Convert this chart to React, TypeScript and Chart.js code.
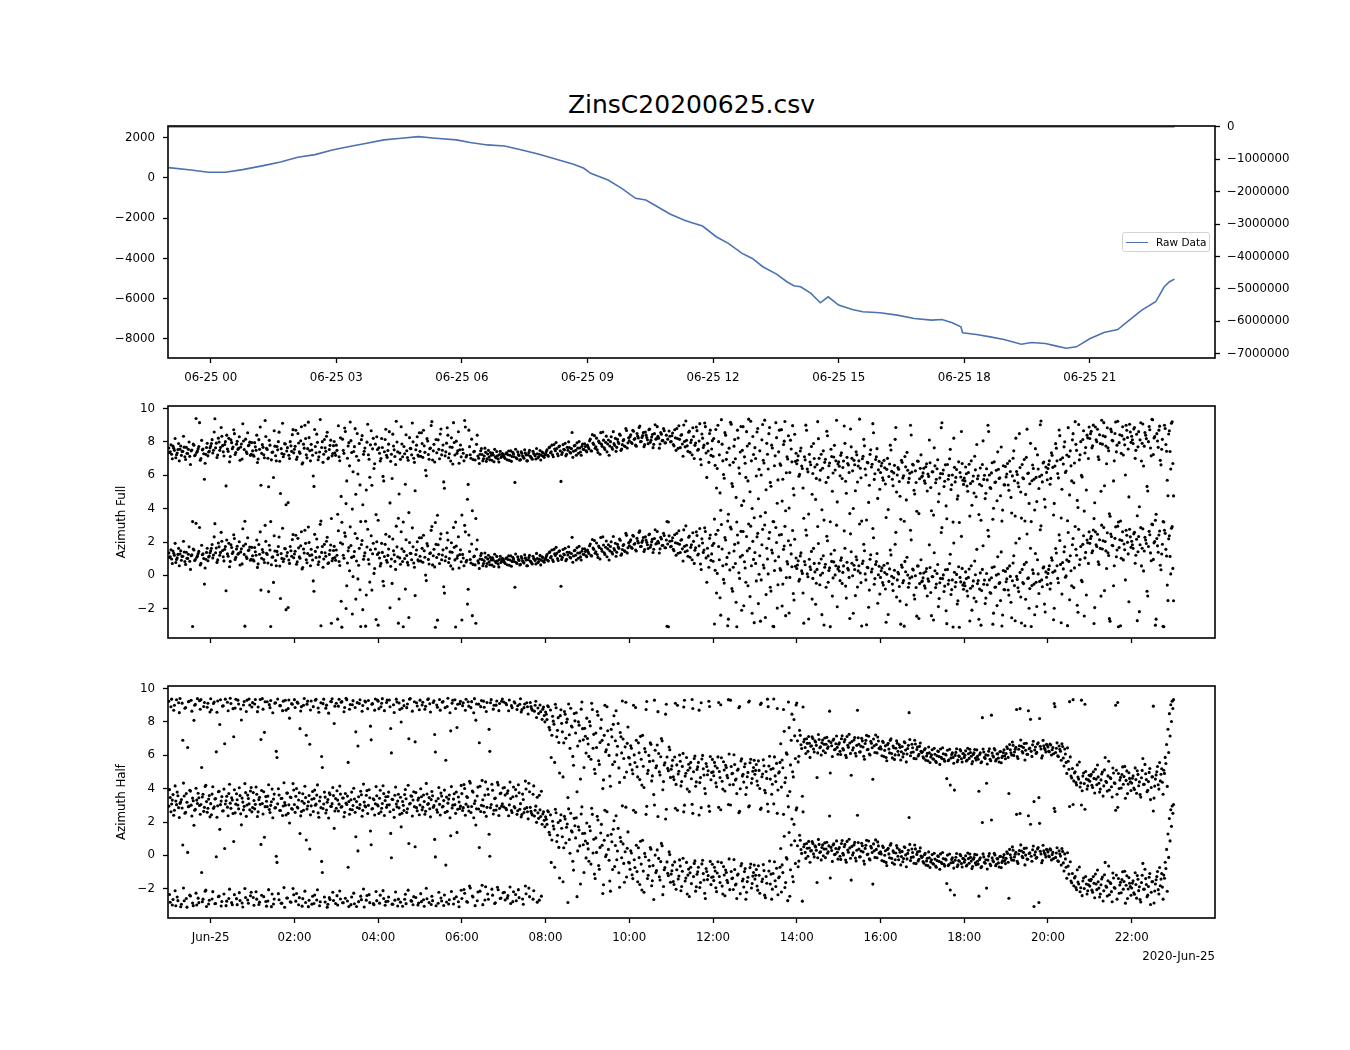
import { useEffect, useRef } from 'react'
import { Chart, registerables } from 'chart.js'

Chart.register(...registerables)

const FONT = 'DejaVu Sans'
Chart.defaults.font.family = FONT
Chart.defaults.color = '#000'

// hours relative to 2020-06-25 00:00
const X_MIN = -1.02
const X_MAX = 23.99

const TITLE = 'ZinsC20200625.csv'
const OFFSET_LABEL = '2020-Jun-25'

const TOP_X_TICKS = [0, 3, 6, 9, 12, 15, 18, 21]
const TOP_X_LABELS = ['06-25 00', '06-25 03', '06-25 06', '06-25 09', '06-25 12', '06-25 15', '06-25 18', '06-25 21']
const BOTTOM_X_TICKS = [0, 2, 4, 6, 8, 10, 12, 14, 16, 18, 20, 22]
const BOTTOM_X_LABELS = ['Jun-25', '02:00', '04:00', '06:00', '08:00', '10:00', '12:00', '14:00', '16:00', '18:00', '20:00', '22:00']
const RAW_Y_TICKS = [-8000, -6000, -4000, -2000, 0, 2000]
const CUM_Y_TICKS = [0, -1000000, -2000000, -3000000, -4000000, -5000000, -6000000, -7000000]
const AZ_TICKS = [-2, 0, 2, 4, 6, 8, 10]

// raw data trace (left axis)
const RAW_HOURS = [
  -1.006, -0.471, -0.06, 0.351, 0.763, 1.257, 1.669, 2.08, 2.493, 2.905, 3.316, 3.727, 4.138, 4.549, 4.963,
  5.374, 5.867, 6.197, 6.608, 7.021, 7.433, 7.844, 8.255, 8.666, 8.915, 9.077, 9.491, 9.818, 10.148, 10.394,
  10.643, 10.97, 11.301, 11.458, 11.75, 12.075, 12.364, 12.694, 12.94, 13.187, 13.517, 13.763, 13.928, 14.093,
  14.339, 14.561, 14.75, 14.999, 15.326, 15.575, 15.986, 16.398, 16.809, 17.22, 17.468, 17.715, 17.92, 17.961,
  18.291, 18.621, 18.95, 19.362, 19.608, 19.938, 20.184, 20.43, 20.679, 21.009, 21.337, 21.666, 21.996, 22.242,
  22.572, 22.778, 22.902, 23.024,
]
const RAW_VALUES = [
  512, 398, 283, 283, 413, 612, 796, 1029, 1161, 1393, 1559, 1725, 1891, 1974, 2056,
  1974, 1891, 1758, 1642, 1592, 1393, 1178, 929, 680, 481, 232, -100, -514, -1012, -1095,
  -1393, -1791, -2090, -2200, -2390, -2919, -3250, -3748, -3997, -4411, -4776, -5157, -5356, -5406,
  -5738, -6202, -5904, -6318, -6534, -6650, -6700, -6816, -6981, -7065, -7031, -7197, -7396, -7695,
  -7778, -7894, -8027, -8259, -8176, -8226, -8342, -8458, -8391, -7977, -7678, -7529, -6981, -6567,
  -6152, -5406, -5157, -5025,
]
// second trace on the right axis, sits on the top spine
const CUM_HOURS = [-1.006, 11.0, 23.024]
const CUM_VALUES = [0, 0, 0]

// azimuth readings, every 2 minutes from 24 Jun 23:00 (set A) and the readings in between (set B)
const SAMPLE_START = -1.0
const SAMPLE_STEP = 2 / 60

const AZ_FULL = [
  // 23h
  1.35, 1.12, 0.98, 1.46, 1.21, 0.77, 1.05, 1.62, 1.28, 0.91, 1.15, 1.40, 0.66, 1.03, 1.27, 0.85, 1.18, -3.06, 1.52, 0.95, 1.09, 1.31, 2.87, 0.72, 1.24, 1.01, 0.44, 1.38, 0.88, 1.16,
  // 00h
  1.47, 1.85, 1.22, 3.10, 1.64, 0.93, 1.71, 1.38, 2.05, 1.12, 1.56, -0.92, 1.29, 1.93, 0.84, 1.67, 1.41, 2.21, 1.08, 1.75, 1.33, 0.62, 1.59, 2.80, 1.26, 1.88, 1.02, 1.49, 1.70, 0.97,
  // 01h
  1.18, 0.86, 1.42, 2.12, 0.69, 1.27, -0.88, 1.55, 0.95, 3.00, 1.33, 0.74, 1.81, -3.06, 1.09, -0.42, 1.46, 0.58, 1.24, 2.30, -1.38, 1.02, 0.83, 1.61, -2.05, 1.37, 0.92, 1.73, 1.15, 2.45,
  // 02h
  1.28, 2.41, 0.81, 1.65, 1.03, 2.62, 0.47, 1.34, 1.92, 0.76, 2.90, 1.19, 1.57, 0.92, -0.95, 1.44, 2.18, 0.65, 1.11, -3.02, 1.73, 0.98, 1.36, 2.05, 0.71, 1.26, 1.82, 0.88, 1.49, 1.07,
  // 03h
  1.52, -2.62, 0.83, 1.96, -3.10, 1.21, 2.55, -1.98, 0.74, 1.67, 2.91, 1.08, -0.07, 1.43, -1.42, 2.22, 0.61, -0.86, 1.85, -2.05, 1.16, -3.04, 1.70, 0.95, -0.40, 2.38, 1.30, 0.12, 1.58, 2.02,
  // 04h
  -2.98, 1.04, 0.72, 1.38, -0.62, 1.86, 0.91, 1.20, 2.33, 0.55, -0.48, 1.47, 0.84, 2.95, 1.12, -1.41, 0.67, 1.59, -3.08, 1.01, 2.14, 0.78, -2.52, 1.33, 0.94, 1.72, 0.49, 1.25, 2.02, 0.86,
  // 05h
  1.15, 2.26, 0.79, 1.48, 0.02, 1.91, 0.96, 1.31, 2.70, 0.63, 1.57, -3.11, 1.07, 1.84, 0.71, 2.49, 1.22, -0.68, 0.88, 1.64, 2.12, 1.01, 0.57, 1.39, 2.87, 0.93, 1.76, 1.18, 0.44, 1.53,
  // 06h
  -2.67, 1.04, 3.00, 0.81, -1.72, 2.42, 0.95, 1.88, 0.66, 1.16, -2.87, 2.12, 0.74, 0.98, 1.32, 0.58, 0.87, 1.09, 0.71, 1.21, 0.64, 0.92, 1.05, 0.53, 0.83, 1.14, 0.69, 0.96, 0.78, 1.02,
  // 07h
  0.88, 0.72, 1.06, 0.95, 0.61, 1.18, 0.84, 0.99, -0.71, 0.77, 1.12, 0.90, 0.66, 1.03, 0.81, 1.24, 0.93, 0.58, 1.08, 0.86, 0.74, 1.15, 0.97, 0.69, 1.01, 0.83, 1.20, 0.91, 1.07, 0.79,
  // 08h
  1.02, 1.25, 0.86, 1.41, 1.13, 0.94, 1.56, 1.19, 1.32, 0.89, 1.47, -0.65, 1.08, 1.28, 1.63, 0.97, 1.22, 1.38, 1.05, 2.28, 1.16, 1.51, 0.92, 1.34, 1.74, 1.11, 1.45, 1.27, 1.60, 1.18,
  // 09h
  1.52, 1.31, 1.88, 1.17, 1.64, 2.09, 1.42, 1.25, 1.76, 0.98, 1.58, 2.31, 1.36, 1.69, 1.12, 1.83, 1.47, 2.02, 1.28, 1.61, 1.93, 1.39, 1.71, 2.18, 1.21, 1.55, 1.85, 1.44, 2.40, 1.66,
  // 10h
  1.78, 2.14, 1.62, 2.35, 1.91, 1.46, 2.06, 2.58, 1.73, 1.98, 2.27, 1.55, 2.12, 1.84, 2.44, 1.69, 2.01, 1.37, 2.21, 1.88, 2.63, 1.94, 1.59, 2.18, 1.81, 2.39, 1.66, -3.05, -3.08, 2.05,
  // 11h
  1.74, 2.25, 1.48, 1.96, 2.52, 1.33, 1.87, 2.11, 1.59, 2.73, 1.42, 1.81, 1.15, 2.36, 1.68, 0.94, 2.04, 1.51, 2.61, 1.22, 1.77, 0.68, 2.19, 1.38, 2.85, 1.05, 1.63, 0.49, 2.42, 1.29,
  // 12h
  0.85, -2.91, 2.46, 0.12, 1.73, -1.34, 3.05, 0.58, -0.46, 2.12, 1.08, -2.62, 0.33, 2.78, -0.95, 1.46, 0.71, -3.08, 1.95, -0.18, 2.64, 1.21, -1.82, 0.44, 2.33, -0.62, 1.62, 2.95, -2.27, 0.96,
  // 13h
  1.37, -0.33, 2.52, 0.07, -2.74, 1.84, 0.62, 3.02, -1.15, 0.98, 2.21, -0.71, 1.52, -3.05, 0.29, 2.87, -1.96, 1.12, 0.41, 2.45, -0.52, 1.76, -2.41, 0.83, 2.08, -0.12, 1.29, 2.69, -1.47, 0.55,
  // 14h
  0.41, 0.88, -0.23, 1.35, 0.12, -2.86, 0.64, 2.41, -0.08, 0.97, 0.35, -1.42, 1.62, 0.21, -0.47, 2.93, 0.73, 0.02, -2.35, 1.18, 0.49, -0.71, 2.08, 0.29, -3.07, 0.84, -0.15, 1.51, 0.58, -1.88,
  // 15h
  0.52, -0.31, 1.06, 0.18, 2.67, -0.64, 0.79, 0.33, -2.58, 1.42, -0.02, 0.61, -1.21, 0.94, 0.27, 3.08, -0.43, 0.71, 1.87, 0.09, -2.96, 0.46, -0.88, 1.24, 0.38, 2.26, -0.19, 0.83, -1.67, 0.55,
  // 16h
  -0.12, 0.45, -0.58, 0.17, -2.81, 0.73, -0.36, 1.52, -0.05, -0.91, 0.31, 2.58, -0.27, 0.08, -1.54, 0.62, -0.44, -3.04, 0.22, 1.09, -0.71, -0.16, 2.13, 0.38, -1.18, -0.02, -2.44, 0.56, -0.49, 0.94,
  // 17h
  -0.33, 0.14, -0.76, 0.41, -0.21, 1.83, -1.02, -0.07, -2.67, 0.28, -0.52, 0.65, -1.39, -0.18, 2.86, 0.03, -0.64, -2.12, 0.36, -0.29, 1.27, -0.85, -3.09, 0.19, -0.41, -1.71, 0.52, -0.12, 2.34, -0.58,
  // 18h
  -0.45, 0.21, -0.93, -0.12, -2.73, 0.58, -0.64, -1.35, 0.04, 1.56, -0.31, -0.82, -2.98, 0.36, -0.53, -1.68, 0.11, 2.71, -0.27, -1.07, 0.47, -2.26, -0.71, 0.02, 1.12, -0.48, -1.51, -3.03, 0.29, -0.86,
  // 19h
  -0.38, 0.42, -1.18, -0.06, -2.54, 0.74, -0.61, 1.94, -0.24, -0.97, 0.18, -2.85, -0.43, 0.66, -1.43, 2.48, -0.15, -0.79, -3.06, 0.33, -0.52, 1.31, -1.86, 0.09, -0.36, 2.97, -0.68, 0.51, -2.19, -0.11,
  // 20h
  0.12, 0.58, -0.47, 0.91, -2.66, 0.27, 1.34, -0.18, 2.43, 0.66, -1.12, 0.39, 1.72, -0.03, -3.01, 0.84, 1.18, -0.62, 2.21, 0.45, 1.57, -1.79, 2.76, 0.95, -0.29, 1.86, -2.43, 1.38, 2.12, 0.72,
  // 21h
  1.92, 2.35, 1.48, -2.88, 2.61, 1.73, 0.82, 2.14, -1.24, 1.58, 2.87, 2.03, 0.41, 1.36, -2.59, 2.48, 1.81, -0.62, 2.22, 1.12, 2.95, 1.67, -3.02, 2.09, 0.93, 1.54, 2.71, 1.98, -1.58, 2.31,
  // 22h
  2.05, 1.62, 2.58, 1.21, -2.71, 2.33, 1.84, 0.57, 2.79, 1.46, 2.12, -0.95, 1.73, 2.44, 0.88, 3.04, 1.95, -2.98, 2.21, 1.39, 2.66, 0.34, 1.87, -3.08, 2.52, 1.16, -1.51, 2.38, 0.09, 2.92,
  // 23h
  -1.52,
]

const AZ_FULL_B = [
  // 23h
  1.08, 1.54, 0.71, 1.33, 1.92, 0.95, 1.26, 0.58, 1.47, 1.14, 2.05, 0.83, 1.39, 1.02, 1.71, 0.36, 1.23, 1.58, 0.89, 3.12, 1.17, 1.44, 0.62, 1.81, 1.29, -0.52, 0.97, 1.63, 1.11, 1.36,
  // 00h
  1.62, 1.05, 2.31, 1.36, 0.78, 1.94, 1.21, 2.58, 1.49, 0.87, 1.73, 2.12, 1.15, 0.52, 1.84, 1.31, 2.44, 0.96, 1.58, 1.27, 2.02, 1.41, 0.69, 1.77, -3.04, 1.12, 2.26, 1.53, 0.91, 1.68,
  // 01h
  0.93, 1.67, 1.21, 0.48, 1.85, 2.61, 1.03, 1.39, 0.77, 2.04, 1.26, -0.97, 1.52, 0.64, 1.11, 2.38, 0.89, 1.44, 1.73, 0.56, 1.31, 2.83, 0.98, 1.59, 1.17, -1.92, 0.72, 1.48, 2.15, 1.06,
  // 02h
  1.45, 0.67, 2.22, 1.12, 1.78, 0.39, 1.58, 2.71, 0.94, 1.31, 1.97, 0.58, 1.23, -0.33, 2.46, 1.07, 1.69, 0.82, 3.06, 1.38, 0.49, 1.86, 1.15, 2.29, 0.76, 1.51, -2.87, 1.02, 1.74, 0.91,
  // 03h
  1.21, 2.68, 0.59, -1.55, 1.88, 1.03, 2.34, -0.62, 1.47, 0.28, 1.79, -2.31, 1.14, 2.51, 0.86, -0.21, 1.62, -3.06, 2.09, 0.97, 1.35, -1.17, 2.77, 0.68, 1.54, -0.88, 1.93, 0.41, -2.64, 1.26,
  // 04h
  1.36, 0.57, 1.92, -0.35, 1.13, 2.47, 0.79, 1.58, -1.94, 0.98, 2.18, 1.24, 0.36, 1.71, -2.86, 1.05, 2.62, 0.83, 1.44, -0.82, 1.19, 0.62, 1.97, 1.31, 2.85, 0.74, -1.21, 1.52, 0.93, 2.26,
  // 05h
  0.86, 1.62, 2.41, 1.09, -0.31, 1.77, 0.68, 1.35, 2.93, 1.18, 0.51, 1.86, -2.68, 1.27, 2.19, 0.94, 1.53, -1.06, 1.12, 2.56, 0.77, 1.41, 1.96, 0.39, 1.68, -3.09, 1.03, 2.32, 1.25, 0.82,
  // 06h
  1.26, 0.58, 2.61, 0.91, -0.83, 1.43, 0.74, -2.41, 1.12, 0.63, 1.57, 0.87, 0.42, 1.19, 0.96, 0.71, 1.34, 0.55, 0.99, 0.81, 1.08, 0.62, 0.93, 1.27, 0.76, 0.88, 0.51, 1.15, 0.84, 0.97,
  // 07h
  0.79, 1.01, 0.64, 1.17, 0.92, 0.55, 1.09, 0.83, 1.28, 0.71, 0.96, 0.62, 1.13, 0.87, 0.74, 1.05, 0.58, 0.94, 1.21, 0.81, 0.68, 1.02, 0.89, 1.32, 0.76, 0.98, 0.63, 1.11, 0.85, 0.95,
  // 08h
  1.14, 0.91, 1.37, 1.06, 1.52, 0.83, 1.29, 1.68, 1.01, 1.43, 1.18, 0.96, 1.55, 1.24, 0.88, 1.39, 1.72, 1.09, 1.31, 0.79, 1.48, 1.21, 1.66, 1.03, 1.35, 0.92, 1.59, 1.26, 1.44, 1.12,
  // 09h
  1.41, 1.78, 1.19, 2.15, 1.56, 1.33, 1.94, 1.08, 1.67, 2.27, 1.45, 1.82, 1.26, 2.06, 1.59, 0.92, 1.73, 1.38, 2.33, 1.51, 1.15, 1.87, 1.62, 2.11, 1.29, 1.79, 1.47, 2.52, 1.35, 1.96,
  // 10h
  2.03, 1.68, 2.41, 1.87, 1.52, 2.22, 1.95, 2.67, 1.74, 2.09, 1.43, 2.31, 1.98, 1.61, 2.48, 1.82, 2.16, 1.57, 2.74, 1.91, 2.05, 1.34, 2.28, 1.79, 2.52, 1.66, 2.12, 1.88, 2.37, 1.72,
  // 11h
  2.08, 1.56, 2.44, 1.21, 1.92, 2.68, 1.37, 2.15, 0.86, 1.74, 2.97, 1.48, 2.29, 1.09, 1.83, 2.56, 0.72, 1.65, 2.39, 1.28, 2.81, 0.35, 1.94, 1.52, 2.63, -0.41, 1.17, 2.22, 0.91, 1.79,
  // 12h
  1.92, 0.31, -1.05, 2.71, 0.94, -2.38, 1.58, -0.24, 2.27, 0.67, -3.02, 1.34, 2.89, -0.78, 0.49, 1.86, -1.61, 2.42, 0.16, 1.11, -2.09, 2.63, 0.82, -0.41, 1.47, 3.08, -1.27, 0.58, 2.04, -2.83,
  // 13h
  0.72, 2.31, -1.69, 1.18, -0.27, 2.76, 0.45, -2.52, 1.63, 0.09, 2.58, -0.94, 1.35, -3.07, 0.88, 1.97, -0.56, 2.42, 0.31, -1.83, 1.56, 2.94, -0.13, 0.69, -2.25, 1.82, 0.52, -1.08, 2.17, 1.04,
  // 14h
  0.62, -0.34, 1.17, 0.27, -1.05, 0.83, 2.72, 0.09, -2.61, 0.51, 1.44, -0.18, 0.72, -1.73, 0.36, 1.91, -0.56, 0.98, 0.14, -2.97, 0.67, 2.35, -0.41, 0.45, 1.28, -1.24, 0.81, 0.03, 3.01, 0.39,
  // 15h
  0.26, 0.91, -0.48, 0.57, 1.63, -1.36, 0.42, -0.12, 2.49, 0.73, -2.27, 0.35, 1.12, -0.69, 0.58, 0.14, -3.03, 0.86, 1.48, -0.27, 0.49, -1.91, 0.97, 0.21, 2.81, -0.53, 0.66, 1.31, 0.04, -1.12,
  // 16h
  0.28, -0.43, 0.61, -0.81, 0.07, -2.34, 0.39, 1.23, -0.52, -0.14, 1.87, -1.29, 0.18, -0.66, -2.92, 0.49, -0.31, 0.84, -1.76, 0.02, -0.47, 2.71, -0.09, 0.33, -1.41, -0.72, 0.57, -2.58, 0.13, -0.38,
  // 17h
  -0.14, -0.62, 0.23, -1.23, -0.35, 0.47, -2.41, -0.08, 1.36, -0.73, 0.11, -1.87, -0.44, 2.57, -0.19, -0.96, 0.34, -2.89, -0.52, 0.71, -1.14, -0.27, 1.94, -0.68, 0.06, -1.52, -3.11, -0.39, 0.42, -0.83,
  // 18h
  -0.62, -0.19, -1.24, 0.38, -0.77, -2.08, -0.33, 0.86, -1.57, -0.49, -2.63, 0.15, -0.91, 1.78, -0.28, -1.36, -0.56, 2.34, -1.02, -0.14, -2.92, 0.52, -0.69, -1.81, 0.08, -0.43, 1.41, -2.37, -0.85, 0.24,
  // 19h
  -0.21, -0.87, 0.57, -1.61, -0.32, 1.18, -2.72, -0.06, -0.74, 2.21, -1.29, 0.36, -0.49, -3.02, 0.79, -0.18, -1.97, 1.63, -0.61, 0.12, -2.36, -0.41, 0.94, -1.08, 2.74, -0.27, 0.45, -1.72, 0.21, -0.55,
  // 20h
  0.36, -0.82, 1.06, 0.19, -1.97, 1.61, 0.58, -0.44, 2.09, -2.84, 0.77, 1.42, -0.11, 0.93, 2.57, -1.46, 0.28, 1.84, -0.73, 2.93, 1.21, -2.21, 0.64, 1.73, -0.38, 2.38, 1.05, -1.17, 1.96, 2.61,
  // 21h
  2.21, 1.36, 2.72, -1.93, 1.84, 2.47, 0.66, 1.62, 3.01, 2.08, -0.91, 1.47, 2.56, 1.19, -2.74, 2.33, 1.78, 0.58, 2.91, 1.52, -3.08, 2.14, 1.03, 2.62, 1.88, -0.27, 2.41, 1.29, 2.77, 1.69,
  // 22h
  1.84, 2.49, 0.73, 2.17, 1.42, -2.17, 2.86, 1.63, 0.27, 2.28, 1.91, -1.23, 2.64, 1.35, 3.07, 0.96, 2.03, -2.62, 1.77, 2.42, 0.61, 1.28, -3.05, 2.71, 1.56, -0.58, 2.19, 1.14, 2.83, 0.42,
]

const AZ_HALF = [
  // 23h
  2.95, -2.81, 3.08, -2.64, 2.71, -3.02, -2.49, 2.86, 3.12, -2.93, 0.62, -2.72, 2.58, -3.10, 2.92, -2.38, 3.01, -2.85, 1.81, 2.77, -2.97, -2.56, 2.99, 3.05, -2.78, 2.64, -2.15, -3.06, 2.83, -2.69,
  // 00h
  3.10, -2.61, 2.82, -2.90, -0.08, 2.97, -2.44, 3.04, -2.76, 2.68, 0.41, -3.01, 2.89, -2.58, 3.13, -2.83, 2.51, -2.35, 3.07, -2.95, 2.79, -2.70, 1.83, -3.09, 2.94, -2.52, 3.02, -2.87, 2.73, -2.21,
  // 01h
  2.87, -2.99, 3.06, -2.62, 2.61, -2.80, 0.66, 3.11, -2.47, 2.92, -3.04, -2.73, 2.75, 3.00, -2.31, -2.91, 2.84, -0.05, 3.09, -2.66, 2.69, -2.86, 2.96, -3.11, 2.42, -2.55, 3.03, -2.78, 2.81, -1.98,
  // 02h
  3.05, -2.74, 2.90, -2.96, 1.31, 2.63, -2.59, 3.12, -2.82, 2.78, -3.07, 0.38, 2.97, -2.45, -2.88, 3.01, -2.67, 2.55, -3.02, 2.86, -1.02, 3.08, -2.79, 2.72, -2.93, -2.53, 2.94, 3.10, -2.70, 2.66,
  // 03h
  2.83, -2.97, 3.07, -2.61, 2.93, -2.84, 2.58, 3.13, -2.73, -3.06, 2.76, -2.49, 2.99, -2.90, 1.12, 2.87, -2.77, 3.04, -2.65, 2.70, -3.09, 2.91, -2.40, 3.00, -2.83, 0.64, 2.81, -2.95, 3.09, -2.71,
  // 04h
  2.96, -2.86, 2.62, 3.11, -2.58, -2.99, 2.88, -2.75, 3.03, 1.32, -2.92, 2.74, -2.68, 3.08, -3.03, 2.85, -2.80, 2.53, 3.00, -2.63, -2.89, 2.79, 0.71, 3.12, -2.74, -2.96, 2.92, -2.52, 2.67, -2.85,
  // 05h
  3.02, -2.77, 2.89, -3.05, 2.65, -2.60, 3.10, 2.80, -2.94, -2.71, 2.98, -0.09, 2.73, -2.87, 3.06, -2.55, 2.90, -3.00, 2.57, -2.79, 3.13, -2.66, 1.18, 2.84, -2.91, 3.04, -2.48, 2.77, -3.08, 2.95,
  // 06h
  -2.58, 2.86, -2.27, 3.07, -2.81, 2.66, -1.95, 2.93, -2.49, 3.11, 1.82, -2.72, 2.78, -2.14, 3.00, -2.95, 2.59, -1.88, 2.88, -2.63, -0.05, 3.05, -2.38, 2.71, -2.84, 2.97, -2.06, 2.82, -2.55, 3.09,
  // 07h
  2.91, -2.67, 2.74, -2.41, 3.03, -2.88, 2.57, -2.18, 2.85, -2.72, 2.68, -2.53, 3.10, 2.45, -2.93, 2.79, -2.30, 2.62, -1.96, 2.88, 2.51, -2.62, 2.36, 2.95, -2.80, 2.22, 2.73, -2.44, 2.48, 2.10,
  // 08h
  2.31, 1.86, 2.62, 1.24, -0.42, 2.05, 1.58, 2.77, 0.83, 1.97, -1.35, 2.44, 1.12, 0.46, 2.18, 1.69, -2.82, 0.95, 2.53, 1.41, -0.88, 1.78, 2.26, 0.27, 1.52, -1.71, 2.91, 0.64, 1.33, -0.15,
  // 09h
  0.72, -0.35, 1.48, 2.83, 0.14, -1.12, 1.05, 2.34, -0.61, 0.48, 1.86, -2.28, 0.91, -0.07, 2.62, 0.36, -1.53, 1.27, -0.84, 2.08, 0.59, -0.26, 1.62, -1.91, 0.83, 2.97, -0.48, 0.22, -1.29, 1.41,
  // 10h
  -0.45, 0.28, -1.16, 2.71, -0.72, 0.61, -1.58, -0.13, 0.85, -2.07, -0.94, 0.12, 2.46, -1.38, -0.29, 0.47, -1.82, -0.61, 3.02, -1.03, 0.33, -0.18, -1.47, 0.72, -2.35, -0.86, 2.18, -0.39, -1.21, 0.05,
  // 11h
  -1.12, -0.58, -1.74, 2.83, -0.86, -1.41, -0.27, -2.12, -0.95, 2.61, -1.53, -0.42, -1.18, -2.46, -0.71, 3.06, -1.27, -0.33, -1.88, -0.98, 2.42, -1.62, -0.51, -1.09, -2.27, -0.78, -1.45, 2.95, -0.36, -1.31,
  // 12h
  -1.28, -0.71, -1.94, -1.05, 2.88, -1.62, -0.43, -2.31, -1.17, -0.88, -1.49, 3.05, -2.05, -0.96, -1.36, -0.25, -1.77, -2.58, -1.11, 2.64, -0.62, -1.53, -1.89, -0.79, -2.21, -1.31, 2.97, -0.52, -1.68, -1.02,
  // 13h
  -1.42, -0.84, -2.08, -1.19, 2.76, -1.57, -0.55, -2.38, -1.26, 3.08, -0.93, -1.71, -2.62, -1.08, -0.38, -1.86, 2.52, -1.34, -0.71, -2.19, -1.03, 1.15, -1.63, -0.22, 2.91, -2.45, 0.62, -1.27, 1.86, -0.48,
  // 14h
  2.85, -0.68, 1.21, 0.35, -2.74, 0.52, 0.18, 0.71, -0.05, 0.44, 0.26, 0.83, 0.09, 0.58, 0.31, -0.14, 0.66, 0.22, 0.47, -0.02, 0.75, 0.38, 0.13, 0.57, -1.35, 0.29, 0.62, 0.05, 0.41, 0.19,
  // 15h
  0.38, -0.05, 0.71, 0.12, 0.52, -0.28, 0.84, 0.19, 0.45, -1.48, 0.03, 0.63, -0.16, 0.31, 0.77, -0.09, 0.26, 0.58, -0.34, 0.42, 0.91, 0.08, -0.21, 0.55, 0.17, 0.69, -0.12, 0.36, 0.81, 0.14,
  // 16h
  0.22, -0.31, 0.48, 0.01, -0.42, 0.35, 0.09, 0.61, -0.18, 0.27, -0.53, 0.14, 0.44, -0.26, 0.19, -0.07, -0.38, 0.52, 0.03, -0.21, 0.31, 0.66, -0.12, 0.17, -0.47, 0.39, 0.06, -0.33, 0.25, -0.04,
  // 17h
  -0.08, -0.46, 0.12, -0.33, -0.61, -0.14, -0.39, 0.05, -0.52, -0.22, -0.71, -0.03, -0.36, 0.09, -0.48, -0.19, -0.64, -0.27, 0.02, -0.55, -2.07, -0.24, -0.42, -2.37, -0.11, -0.67, -0.31, 0.06, -0.49, -0.18,
  // 18h
  -0.41, -0.02, -0.58, -0.19, 0.08, -0.34, -0.66, -0.13, -0.45, 0.04, -0.52, -0.24, -0.73, 1.97, -0.09, -0.47, -1.96, -0.28, 0.11, -0.61, -0.15, -0.38, 0.03, -0.53, -0.21, -0.69, -0.06, -0.42, -0.12, -0.31,
  // 19h
  -0.18, 0.12, -2.57, 0.04, -0.27, 0.31, -0.09, 0.19, -0.36, 0.08, 2.51, 0.26, -0.14, 0.42, 0.02, -0.22, 2.38, 0.15, -0.05, 0.34, -3.06, 0.21, -0.11, 0.47, 1.92, 0.09, -0.31, 0.28, 0.05, 0.37,
  // 20h
  0.21, -0.08, 0.33, 0.05, -0.19, 2.63, 0.14, -0.32, 0.27, -0.04, 0.41, -0.45, 0.09, -0.71, 0.16, -1.12, -0.38, -1.64, 3.05, -1.35, -1.92, -0.86, -1.71, -2.18, 3.02, -1.53, -1.98, -1.26, -2.31, -1.76,
  // 21h
  -1.84, -1.43, -2.21, -1.67, -1.12, -2.05, -1.58, -2.49, -1.76, -1.29, -2.12, -0.42, -1.91, -1.52, -2.36, -1.68, -2.78, -1.35, -1.97, -1.18, 2.88, -2.27, -1.61, -1.44, -2.02, -0.95, -1.79, -2.58, -1.33, -1.87,
  // 22h
  -1.95, -1.52, -2.33, -1.74, -1.21, -2.11, -2.64, -1.63, -0.48, -2.02, -1.39, -2.47, -1.86, -1.08, -2.21, -1.57, -2.85, -1.71, -1.27, -2.05, -0.72, -1.42, -1.90, -1.18, -0.41, 0.36, 1.28, 2.21, 2.74, 2.96,
  // 23h
  3.05,
]

const AZ_HALF_B = [
  // 23h
  -2.34, 2.62, -2.97, 2.41, -2.12, 3.04, -2.71, 2.27, -3.08, 2.84, -1.95, 2.53, -2.58, 0.18, 2.95, -2.43, 2.36, -3.01, 2.71, -2.26, 3.11, -2.83, 2.47, -1.02, -2.62, 2.88, -2.08, 2.59, -2.91, 2.31,
  // 00h
  2.44, -2.17, 2.91, -2.88, 2.29, -2.47, 1.56, -3.03, 2.66, -2.31, 3.08, -2.74, 2.38, -2.02, 2.82, -2.96, 0.83, 2.55, -2.59, 3.02, -2.23, 2.49, -2.85, 2.73, -1.98, 2.34, -2.67, 3.09, -2.42, 2.61,
  // 01h
  -2.52, 2.79, -2.18, 2.33, -2.94, 3.06, -2.39, 2.48, 1.09, -2.76, 2.92, -2.05, 2.57, -3.07, 2.26, -2.61, 2.86, -0.42, -2.29, 2.69, -2.87, 2.39, -1.93, 3.01, -2.55, 2.52, 1.94, -2.81, 2.77, -2.36,
  // 02h
  2.58, -2.28, 2.84, -2.53, 2.37, -3.04, 2.71, -2.14, 0.92, 2.96, -2.69, 2.43, -2.92, 2.63, -2.37, 3.07, -2.06, 2.29, -2.78, -0.36, 2.81, -2.49, 2.54, -3.10, 2.24, -2.64, 2.93, -2.21, 1.62, -2.88,
  // 03h
  -2.41, 2.66, -2.13, 2.89, -2.84, 2.32, -2.57, 3.05, -0.71, 2.47, -2.95, 2.74, -2.26, 2.58, -3.06, 0.27, 2.82, -2.44, 2.35, -2.01, 2.97, -2.68, 2.51, -2.35, 1.46, 2.78, -2.89, 2.42, -2.16, 3.03,
  // 04h
  2.51, -2.38, 2.83, -2.11, 2.39, -2.77, 3.02, -2.49, 2.62, -0.14, -2.93, 2.28, -2.19, 2.91, -2.62, 2.46, 1.71, -3.05, 2.69, -2.33, 2.57, -2.08, 3.08, -2.71, 2.36, -2.47, 0.52, 2.86, -2.97, 2.44,
  // 05h
  -2.29, 2.73, -2.66, 2.47, -1.97, 3.06, -2.82, 2.31, -2.45, 2.88, 0.96, -3.02, 2.59, -2.21, 2.42, -2.73, 2.94, -2.37, -0.58, 2.64, -2.91, 2.26, -2.16, 3.01, -2.59, 2.52, 1.38, -2.78, 2.81, -2.09,
  // 06h
  2.69, -2.04, 2.41, -2.76, 2.92, -1.84, 2.57, -2.43, 2.26, -3.01, 2.79, -2.19, 0.47, 2.63, -1.79, 2.96, -2.67, 2.34, -2.31, 1.27, 2.86, -2.02, 2.48, -2.88, 2.72, -1.91, 2.39, -2.58, 2.95, -2.24,
  // 07h
  -2.21, 2.83, -2.56, 2.38, -1.89, 2.69, -2.77, 2.92, -2.34, 2.46, -2.05, 2.77, 2.31, -2.61, 2.57, -1.83, 2.86, 2.19, -2.47, 2.64, 2.42, -2.12, 2.71, 1.98, 2.55, -2.68, 2.33, 1.87, 2.61, 1.72,
  // 08h
  2.17, 2.68, 1.39, 2.43, 0.92, 1.76, -0.71, 2.56, 1.21, 0.48, 2.09, 1.63, -1.58, 2.34, 0.74, 1.88, 2.79, 0.13, 1.47, -0.35, 2.22, 1.05, -2.47, 1.72, 0.57, 2.48, 1.31, -1.02, 0.86, 1.94,
  // 09h
  0.39, 1.73, -0.52, 2.46, 0.97, -1.38, 0.18, 2.12, -0.83, 1.34, 0.61, -1.76, 2.71, 0.04, 1.19, -0.29, -2.14, 0.82, 1.57, -0.67, 2.38, 0.26, -1.04, 1.08, -0.14, 0.69, -1.61, 2.89, 0.43, -0.41,
  // 10h
  -0.83, 0.14, -1.39, -0.26, 2.58, -0.97, 0.46, -1.74, -0.52, 0.91, -2.21, -0.08, 2.94, -1.19, -0.65, 0.37, -1.52, -2.64, 0.02, -0.91, 2.33, -1.28, -0.37, 0.58, -1.86, -0.73, 2.77, -1.07, 0.21, -1.61,
  // 11h
  -0.92, -1.57, -0.39, -2.03, 2.71, -1.24, -0.64, -1.86, -0.17, 3.01, -1.36, -2.31, -0.82, -1.04, -1.69, 2.52, -0.48, -2.14, -1.13, -0.71, -1.92, 2.86, -0.29, -1.47, -2.58, -0.96, -1.21, 2.64, -1.75, -0.53,
  // 12h
  -1.51, -0.93, -2.17, -0.38, -1.26, 2.74, -1.84, -0.67, -2.42, -1.02, -1.63, -0.21, 3.02, -1.39, -2.04, -0.84, -1.71, -1.18, 2.56, -2.29, -0.49, -1.42, -0.97, -2.63, -1.57, 2.91, -0.73, -1.95, -1.24, -0.58,
  // 13h
  -1.19, -1.83, -0.62, -2.27, 2.84, -1.41, -0.91, -2.53, -1.67, 2.63, -0.34, -1.12, -2.02, 3.09, -1.52, -0.77, -2.36, -1.28, 0.41, -0.57, 2.46, -1.92, -0.13, -2.71, 1.37, -0.86, 2.18, -1.58, 0.88, 2.73,
  // 14h
  0.58, -0.34, 0.91, 0.12, 2.61, 0.67, -0.18, 0.43, 0.84, -0.41, 0.29, 0.72, -0.09, 0.51, -1.62, 0.96, 0.17, -0.27, 0.63, 0.38, -0.13, 0.79, 0.22, 2.36, 0.48, -0.36, 0.69, 0.07, 0.87, -0.22,
  // 15h
  0.47, -0.24, 0.89, 0.03, 0.66, -0.41, 0.32, 0.97, -0.17, 0.54, 0.16, 0.78, -0.33, 2.41, 0.38, -0.08, 0.73, 0.21, -0.52, 0.61, 0.05, 0.86, -0.27, 0.44, -1.72, 0.28, 0.93, -0.14, 0.57, 0.11,
  // 16h
  0.09, 0.56, -0.36, 0.28, -0.61, 0.43, -0.14, 0.71, -0.44, 0.17, -0.26, 0.59, -0.05, 0.34, -0.57, 0.24, -0.19, 0.47, -0.68, 0.12, 2.27, -0.31, 0.38, -0.09, 0.62, -0.49, 0.21, -0.23, 0.45, -0.12,
  // 17h
  -0.37, 0.04, -0.58, -0.17, 0.21, -0.72, -0.26, -0.49, 0.13, -0.64, -0.31, -0.06, -0.83, -0.41, 0.17, -0.53, -0.22, -1.68, -0.61, 0.08, -0.44, -0.14, -0.76, -0.29, 0.11, -0.57, -0.35, -0.02, -0.69, -0.19,
  // 18h
  -0.28, -0.63, 0.14, -0.47, -0.12, -0.79, -0.23, 0.06, -0.56, -0.35, -2.44, -0.14, -0.67, 0.09, -0.41, -0.26, -0.81, -0.04, -0.52, 2.12, -0.31, 0.12, -0.62, -0.19, -0.45, -0.07, -0.73, -0.33, 0.05, -0.49,
  // 19h
  0.22, -0.41, 0.36, -0.13, 0.51, -0.29, 0.07, 2.46, -0.48, 0.29, 0.63, -0.06, 0.18, -0.57, 0.44, -0.23, 0.11, 1.87, -0.35, 0.56, 0.03, -0.17, 0.39, -2.82, 0.25, -0.44, 0.61, 0.14, -0.09, 0.32,
  // 20h
  -0.04, 0.39, -0.27, 0.18, 2.82, -0.12, 0.46, -0.36, 0.08, -0.58, 0.24, -0.93, -0.21, -1.37, -0.64, 2.93, -1.53, -1.08, -1.82, -1.27, -2.06, -1.59, -0.69, -1.94, -2.41, -1.35, 2.77, -1.71, -2.12, -1.48,
  // 21h
  -1.52, -2.08, -1.27, -2.54, -1.71, -0.87, -1.96, -2.31, -1.41, -2.73, -1.16, -1.84, -2.43, -0.64, -1.62, -2.17, -1.05, -1.93, 2.71, -2.62, -1.38, -1.77, -2.24, -0.98, -1.56, -2.86, -1.22, -2.01, -1.67, -2.39,
  // 22h
  -1.66, -2.24, -1.04, -2.56, -1.43, -1.88, -2.79, -1.19, -2.03, -0.83, -1.74, -2.38, -1.31, -2.94, -1.58, 2.66, -2.13, -1.46, -0.96, -2.31, -1.82, -1.09, -2.62, -1.37, -0.78, -2.15, -0.12, 0.87, 1.74, 2.52,
]

const RAW_COLOR = '#4c72b0'
const CUM_COLOR = '#1c2b4a'
const tickFont = { family: FONT, size: 11.8 }
const minus = (v: number) => String(v).replace('-', '\u2212')

const framePlugin = {
  id: 'frame',
  afterDraw(chart: any) {
    const { ctx, chartArea: { left, top, right, bottom } } = chart
    ctx.save()
    ctx.strokeStyle = '#000'
    ctx.lineWidth = 1.6
    ctx.strokeRect(left, top, right - left, bottom - top)
    ctx.restore()
  },
}

const tickGrid = { drawOnChartArea: false, drawTicks: true, tickLength: 5, tickColor: '#000', tickWidth: 1.3 }

function xAxis(ticks: number[], labels: string[] | null, height: number) {
  return {
    type: 'linear',
    position: 'bottom',
    min: X_MIN,
    max: X_MAX,
    afterFit: (s: any) => { s.height = height },
    afterBuildTicks: (s: any) => { s.ticks = ticks.map(value => ({ value })) },
    grid: tickGrid,
    border: { display: false },
    ticks: {
      autoSkip: false, maxRotation: 0, minRotation: 0, padding: 8, color: '#000', font: tickFont,
      callback: (v: number) => (labels ? labels[ticks.indexOf(v)] ?? '' : ''),
    },
  }
}

function yAxis(position: string, width: number, min: number, max: number, ticks: number[], padding: number, title?: string) {
  return {
    type: 'linear',
    position,
    min,
    max,
    afterFit: (s: any) => { s.width = width },
    afterBuildTicks: (s: any) => { s.ticks = ticks.map(value => ({ value })) },
    grid: tickGrid,
    border: { display: false },
    ticks: { padding, color: '#000', font: tickFont, callback: (v: number) => minus(v) },
    title: title
      ? { display: true, text: title, color: '#000', font: tickFont, padding: { top: 115, bottom: 0 } }
      : { display: false },
  }
}

const baseOptions = {
  responsive: false,
  animation: false,
  devicePixelRatio: 1,
  events: [],
  plugins: { legend: { display: false }, tooltip: { enabled: false } },
}

function rawConfig() {
  return {
    type: 'scatter',
    data: {
      datasets: [
        {
          label: 'Raw Data',
          data: RAW_HOURS.map((x, i) => ({ x, y: RAW_VALUES[i] })),
          showLine: true,
          borderColor: RAW_COLOR,
          borderWidth: 1.6,
          pointRadius: 0,
          yAxisID: 'y',
        },
        {
          label: 'cumulative',
          data: CUM_HOURS.map((x, i) => ({ x, y: CUM_VALUES[i] })),
          showLine: true,
          borderColor: CUM_COLOR,
          borderWidth: 1.0,
          pointRadius: 0,
          yAxisID: 'y2',
        },
      ],
    },
    options: {
      ...baseOptions,
      layout: { padding: { top: 126, bottom: 12, left: 0, right: 0 } },
      scales: {
        x: xAxis(TOP_X_TICKS, TOP_X_LABELS, 30),
        y: yAxis('left', 168, -8945, 2582, RAW_Y_TICKS, 8),
        y2: yAxis('right', 135, -7133000, 28000, CUM_Y_TICKS, 7),
      },
    },
    plugins: [framePlugin],
  }
}

// each angle is shown twice: as read and shifted by one full turn
function azimuthPoints(theta: number[], start: number) {
  const pts: { x: number; y: number }[] = []
  theta.forEach((v, i) => {
    const t = start + i * SAMPLE_STEP
    pts.push({ x: t, y: v }, { x: t, y: v + 2 * Math.PI })
  })
  return pts
}

function azimuthConfig(thetaA: number[], thetaB: number[], title: string, labels: string[] | null, axisHeight: number, padBottom: number) {
  return {
    type: 'scatter',
    data: {
      datasets: [
        {
          label: title,
          data: [...azimuthPoints(thetaA, SAMPLE_START), ...azimuthPoints(thetaB, SAMPLE_START + SAMPLE_STEP / 2)],
          pointRadius: 1.55,
          pointBorderWidth: 0,
          backgroundColor: '#000',
          borderColor: '#000',
        },
      ],
    },
    options: {
      ...baseOptions,
      layout: { padding: { top: 26, bottom: padBottom, left: 0, right: 135 } },
      scales: {
        x: xAxis(BOTTOM_X_TICKS, labels, axisHeight),
        y: yAxis('left', 168, -3.75, 10.15, AZ_TICKS, 8, title),
      },
    },
    plugins: [framePlugin],
  }
}

const fullConfig = () => azimuthConfig(AZ_FULL, AZ_FULL_B, 'Azimuth Full', null, 20, 12)
const halfConfig = () => azimuthConfig(AZ_HALF, AZ_HALF_B, 'Azimuth Half', BOTTOM_X_LABELS, 40, 42)

function Panel({ top, height, config }: { top: number; height: number; config: () => any }) {
  const canvasRef = useRef<HTMLCanvasElement>(null)
  useEffect(() => {
    if (!canvasRef.current) return
    const chart = new Chart(canvasRef.current, config())
    return () => { chart.destroy() }
  }, [config])
  return (
    <canvas
      ref={canvasRef}
      width={1350}
      height={height}
      style={{ position: 'absolute', left: 0, top, width: 1350, height }}
    />
  )
}

export default function App() {
  return (
    <div style={{ position: 'absolute', left: 0, top: 0, width: 1350, height: 1050, overflow: 'hidden', background: '#fff', fontFamily: FONT }}>
      <div style={{ position: 'absolute', left: 168, top: 90, width: 1047, textAlign: 'center', fontSize: 25, lineHeight: '30px', color: '#000' }}>
        {TITLE}
      </div>
      <Panel top={0} height={400} config={rawConfig} />
      <Panel top={380} height={290} config={fullConfig} />
      <Panel top={660} height={340} config={halfConfig} />
      <div style={{ position: 'absolute', left: 1122, top: 232, width: 86, height: 18, border: '1px solid #d3d3d3', borderRadius: 3, background: 'rgba(255,255,255,0.85)' }}>
        <div style={{ position: 'absolute', left: 3, top: 8.5, width: 22, height: 1.6, background: RAW_COLOR }} />
        <div style={{ position: 'absolute', left: 33, top: 0, fontSize: 10.5, lineHeight: '18px', color: '#000', whiteSpace: 'nowrap' }}>Raw Data</div>
      </div>
      <div style={{ position: 'absolute', left: 1015, top: 949, width: 200, textAlign: 'right', fontSize: 11.8, lineHeight: '14px', color: '#000' }}>
        {OFFSET_LABEL}
      </div>
    </div>
  )
}
